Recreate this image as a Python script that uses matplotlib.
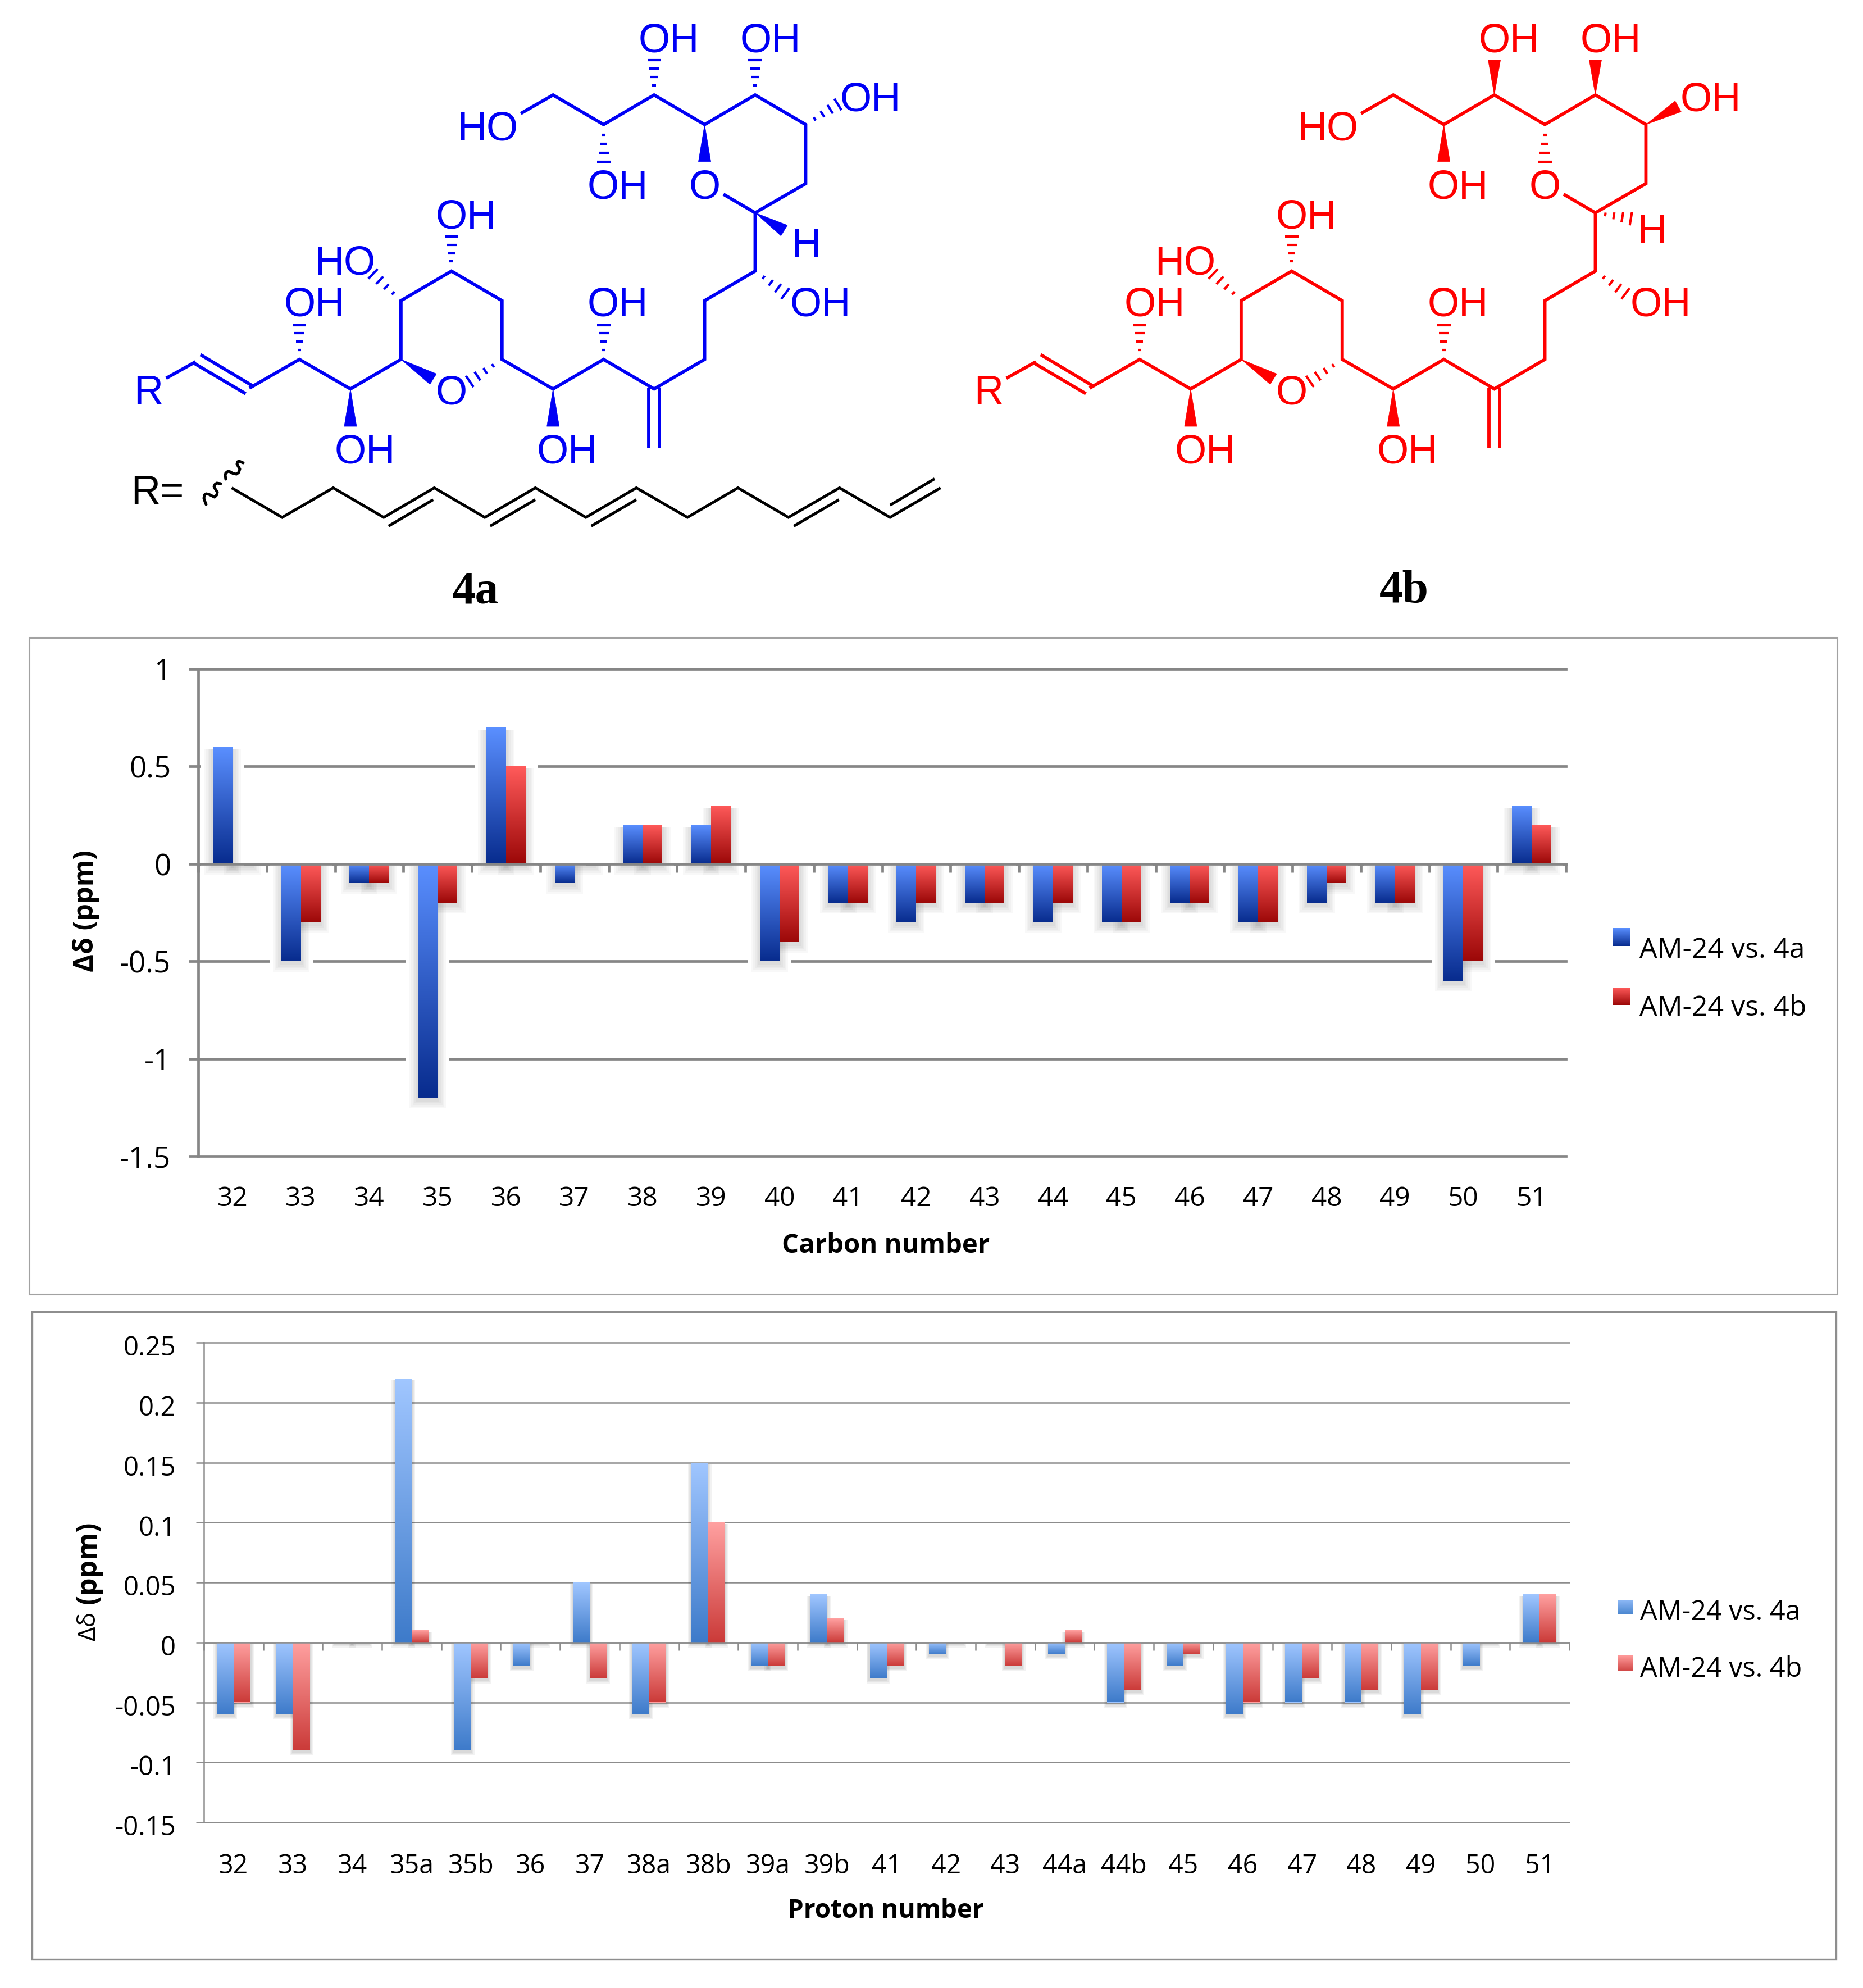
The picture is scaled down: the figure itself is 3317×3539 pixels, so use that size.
import matplotlib

matplotlib.use("Agg")
import matplotlib.pyplot as plt
import numpy as np
from matplotlib.colors import to_rgb
from matplotlib.patches import Polygon, Rectangle
from matplotlib.transforms import ScaledTranslation

WIDTH = 3317
HEIGHT = 3539

# ######## chart values #########

carbon_labels = ["32", "33", "34", "35", "36", "37", "38", "39", "40", "41",
                 "42", "43", "44", "45", "46", "47", "48", "49", "50", "51"]
carbon_4a = [0.6, -0.5, -0.1, -1.2, 0.7, -0.1, 0.2, 0.2, -0.5, -0.2,
             -0.3, -0.2, -0.3, -0.3, -0.2, -0.3, -0.2, -0.2, -0.6, 0.3]
carbon_4b = [0, -0.3, -0.1, -0.2, 0.5, 0, 0.2, 0.3, -0.4, -0.2,
             -0.2, -0.2, -0.2, -0.3, -0.2, -0.3, -0.1, -0.2, -0.5, 0.2]
carbon_ticks = [1, 0.5, 0, -0.5, -1, -1.5]
carbon_ticklabels = ["1", "0.5", "0", "-0.5", "-1", "-1.5"]

proton_labels = ["32", "33", "34", "35a", "35b", "36", "37", "38a", "38b",
                 "39a", "39b", "41", "42", "43", "44a", "44b", "45", "46",
                 "47", "48", "49", "50", "51"]
proton_4a = [-0.06, -0.06, 0, 0.22, -0.09, -0.02, 0.05, -0.06, 0.15,
             -0.02, 0.04, -0.03, -0.01, 0, -0.01, -0.05, -0.02, -0.06,
             -0.05, -0.05, -0.06, -0.02, 0.04]
proton_4b = [-0.05, -0.09, 0, 0.01, -0.03, 0, -0.03, -0.05, 0.10,
             -0.02, 0.02, -0.02, 0, -0.02, 0.01, -0.04, -0.01, -0.05,
             -0.03, -0.04, -0.04, 0, 0.04]
proton_ticks = [0.25, 0.2, 0.15, 0.1, 0.05, 0, -0.05, -0.1, -0.15]
proton_ticklabels = ["0.25", "0.2", "0.15", "0.1", "0.05", "0", "-0.05",
                     "-0.1", "-0.15"]

legend_4a = "AM-24 vs. 4a"
legend_4b = "AM-24 vs. 4b"

# ######## molecule drawing, in sketch units (see px below) #########

chain = [(100, 960), (155, 918)]
skeleton = [
    (255, 985), (348, 912), (443, 987), (537, 912), (537, 763), (631, 688),
    (725, 763), (725, 912), (820, 987), (914, 912), (1008, 987), (1102, 912),
    (1102, 763), (1196, 688), (1196, 540), (1290, 466), (1290, 316),
    (1196, 241), (1102, 316), (1008, 241), (914, 316), (820, 241), (760, 288),
]
ring_o_bond = [(1196, 540), (1137, 493)]
side_bonds = [
    [(150, 920), (248, 999)],
    [(164, 900), (262, 980)],
    [(998, 985), (998, 1137)],
    [(1018, 985), (1018, 1137)],
]
# stereo bonds that both isomers share
common_wedges = [
    [(443, 987), (443, 1082)],
    [(537, 912), (597, 962)],
    [(820, 987), (820, 1082)],
]
common_hashes = [
    [(348, 912), (348, 825)],
    [(725, 912), (665, 968)],
    [(537, 763), (485, 695)],
    [(631, 688), (631, 600)],
    [(914, 912), (914, 825)],
    [(1196, 688), (1252, 745)],
]
a_wedges = [[(1196, 540), (1250, 585)], [(1102, 316), (1102, 410)]]
a_hashes = [
    [(914, 316), (914, 410)],
    [(1008, 241), (1008, 152)],
    [(1196, 241), (1196, 152)],
    [(1290, 316), (1350, 265)],
]
b_wedges = [
    [(914, 316), (914, 410)],
    [(1008, 241), (1008, 152)],
    [(1196, 241), (1196, 152)],
    [(1290, 316), (1350, 270)],
]
b_hashes = [[(1102, 316), (1102, 410)], [(1196, 540), (1262, 555)]]
common_atoms = [
    ("OH", 1035, 95), ("OH", 1224, 95), ("OH", 1411, 245), ("HO", 698, 318),
    ("OH", 940, 467), ("O", 1102, 467), ("OH", 658, 542), ("HO", 433, 660),
    ("OH", 376, 765), ("OH", 940, 765), ("OH", 1317, 765), ("R", 67, 988),
    ("O", 631, 988), ("OH", 470, 1138), ("OH", 846, 1138),
]
a_atoms = [("H", 1291, 615)]
b_atoms = [("H", 1301, 580)]

r_group = [
    (222, 1238), (316, 1313), (411, 1238), (505, 1313), (599, 1238),
    (693, 1313), (787, 1238), (881, 1313), (975, 1238), (1070, 1313),
    (1164, 1238), (1258, 1313), (1353, 1238), (1447, 1313), (1541, 1238),
]
r_group_doubles = [
    [(514, 1335), (597, 1268)],
    [(703, 1335), (787, 1268)],
    [(891, 1335), (975, 1268)],
    [(1268, 1335), (1352, 1268)],
    [(1447, 1282), (1530, 1215)],
]
# wavy bond, in pixels
squiggle_low = [(367, 898), (365, 893), (363, 887), (364, 881), (367, 879),
                (372, 880), (378, 883), (382, 885), (386, 881), (387, 876),
                (383, 870), (381, 866), (383, 862), (386, 860), (393, 861)]
squiggle_high = [(402, 853), (401, 846), (402, 842), (406, 839), (410, 840),
                 (415, 843), (421, 844), (425, 841), (427, 835), (424, 830),
                 (422, 826), (423, 822), (426, 821), (433, 824)]


def px(point, dx=0):
    # the sketch units are stretched against the final pixels
    return 200 + point[0] / 1.045 + dx, point[1] / 1.4255


def draw_line(ax, points, color, lw, dx=0):
    xy = np.array([px(p, dx) for p in points])
    ax.plot(xy[:, 0], xy[:, 1], color=color, lw=lw, solid_joinstyle="miter",
            solid_capstyle="butt", zorder=3)


def draw_wedge(ax, bond, color, dx=0, width=22):
    a, b = np.array(px(bond[0], dx)), np.array(px(bond[1], dx))
    d = (b - a) / np.hypot(*(b - a))
    n = np.array([-d[1], d[0]]) * width / 2
    ax.add_patch(Polygon([a, b + n, b - n], closed=True, fc=color, ec=color,
                         lw=0.5, zorder=3))


def draw_hash(ax, bond, color, dx=0, width=24, count=4):
    a, b = np.array(px(bond[0], dx)), np.array(px(bond[1], dx))
    d = (b - a) / np.hypot(*(b - a))
    n = np.array([-d[1], d[0]])
    for i in range(1, count + 1):
        t = 0.28 + 0.72 * (i - 1) / (count - 1)
        c = a + (b - a) * t
        h = n * width * t / 2
        ax.plot([c[0] - h[0], c[0] + h[0]], [c[1] - h[1], c[1] + h[1]],
                color=color, lw=3.0, solid_capstyle="butt", zorder=3)


def draw_molecule(ax, color, wedges, hashes, atoms, dx=0):
    draw_line(ax, chain, color, 4.2, dx)
    draw_line(ax, skeleton, color, 4.2, dx)
    draw_line(ax, ring_o_bond, color, 4.2, dx)
    for bond in side_bonds:
        draw_line(ax, bond, color, 4.2, dx)
    for bond in common_wedges + wedges:
        draw_wedge(ax, bond, color, dx)
    for bond in common_hashes + hashes:
        draw_hash(ax, bond, color, dx)
    for text, x, y in common_atoms + atoms:
        xp, yp = px((x, y), dx)
        ax.text(xp, yp, text, color=color, fontsize=52, ha="center",
                va="center_baseline", family="Liberation Sans", zorder=4)


def gradient(ax, x0, x1, y0, y1, top, bottom, clip=None, zorder=2):
    rgb = np.linspace(to_rgb(top), to_rgb(bottom), 64).reshape(64, 1, 3)
    im = ax.imshow(rgb, extent=(x0, x1, y0, y1), aspect="auto", origin="upper",
                   interpolation="bilinear", zorder=zorder)
    if clip is not None:
        im.set_clip_path(clip)
    return im


def draw_chart(fig, box, labels, series_a, series_b, ticks, ticklabels, style):
    left, top, right, bottom = box
    ax = fig.add_axes([left / WIDTH, 1 - bottom / HEIGHT,
                       (right - left) / WIDTH, (bottom - top) / HEIGHT],
                      facecolor="none")
    ax.set_xlim(-0.5, len(labels) - 0.5)
    ax.set_ylim(ticks[-1], ticks[0])
    ax.set_autoscale_on(False)

    per_px_x = len(labels) / (right - left)
    per_px_y = (ticks[0] - ticks[-1]) / (bottom - top)
    width = style["bar_px"] * per_px_x
    x = np.arange(len(labels))

    for offset, values, top_c, bottom_c in [
        (-width / 2, series_a, style["blue"][0], style["blue"][1]),
        (width / 2, series_b, style["red"][0], style["red"][1]),
    ]:
        bars = ax.bar(x + offset, values, width=width, color=top_c,
                      linewidth=0, zorder=2)
        for bar, value in zip(bars, values):
            x0 = bar.get_x()
            x1 = x0 + width
            low, high = min(value, 0), max(value, 0)
            if style["halo"] and value != 0:
                h = style["halo"]
                ax.add_patch(Rectangle(
                    (x0 - h * per_px_x, low - h * per_px_y),
                    width + 2 * h * per_px_x, high - low + 2 * h * per_px_y,
                    fc="white", ec="none", zorder=1))
            # soft drop shadow, falling below the bar only
            for k in range(1, style["blur"] + 1):
                s = k * style["blur_step"]
                y0 = low - (s + style["drop"]) * per_px_y
                y1 = high - style["drop"] * per_px_y
                ax.add_patch(Rectangle(
                    (x0 - s * per_px_x, y0), width + 2 * s * per_px_x, y1 - y0,
                    fc="black", ec="none", alpha=style["blur_alpha"],
                    zorder=1.2))
            if value != 0:
                gradient(ax, x0, x1, low, high, top_c, bottom_c, clip=bar,
                         zorder=2.1)

    grey = style["grey"]
    ax.set_yticks(ticks)
    ax.set_yticklabels(ticklabels)
    ax.yaxis.grid(True, color=grey, lw=style["grid_lw"])
    ax.set_axisbelow(True)
    for line in ax.get_ygridlines():
        line.set_clip_on(False)
    ax.tick_params(axis="y", length=style["tick_len"], width=style["grid_lw"],
                   color=grey, pad=style["ypad"],
                   labelsize=style["ytick_size"])

    for name in ["top", "right"]:
        ax.spines[name].set_visible(False)
    ax.spines["left"].set_color(grey)
    ax.spines["left"].set_linewidth(style["grid_lw"])
    ax.spines["bottom"].set_position(("data", 0))
    ax.spines["bottom"].set_color(grey)
    ax.spines["bottom"].set_linewidth(style["grid_lw"])

    ax.set_xticks(x)
    ax.set_xticklabels(labels)
    ax.set_xticks(np.arange(len(labels) + 1) - 0.5, minor=True)
    ax.tick_params(axis="x", which="major", length=0, pad=style["xpad"],
                   labelsize=style["xtick_size"])
    ax.tick_params(axis="x", which="minor", length=style["xtick_len"],
                   width=style["grid_lw"], color=grey)
    shift = ScaledTranslation(0, -style["ylabel_drop"] / 100,
                              fig.dpi_scale_trans)
    for label in ax.get_yticklabels():
        label.set_family("Open Sans")
        label.set_transform(label.get_transform() + shift)
    for label in ax.get_xticklabels():
        label.set_family("Open Sans")
    return ax


def run_example():
    fig = plt.figure(figsize=(WIDTH / 100, HEIGHT / 100), dpi=100,
                     facecolor="white")

    canvas = fig.add_axes([0, 0, 1, 1], zorder=-1)
    canvas.set_xlim(0, WIDTH)
    canvas.set_ylim(HEIGHT, 0)
    canvas.set_autoscale_on(False)
    canvas.axis("off")

    # ######## structures #########
    draw_molecule(canvas, "#0000F5", a_wedges, a_hashes, a_atoms)
    draw_molecule(canvas, "#FF0000", b_wedges, b_hashes, b_atoms, dx=1496)

    draw_line(canvas, r_group, "black", 3.6)
    for bond in r_group_doubles:
        draw_line(canvas, bond, "black", 3.6)
    for squiggle in [squiggle_low, squiggle_high]:
        xy = np.array(squiggle)
        canvas.plot(xy[:, 0], xy[:, 1], color="black", lw=3.6,
                    solid_capstyle="round", solid_joinstyle="round")
    canvas.text(280, 871, "R=", color="black", fontsize=52, ha="center",
                va="center_baseline", family="Liberation Sans")
    canvas.text(846, 1054, "4a", color="black", fontsize=60, ha="center",
                va="center", family="Liberation Serif", weight="bold")
    canvas.text(2500, 1052, "4b", color="black", fontsize=60, ha="center",
                va="center", family="Liberation Serif", weight="bold")

    # ######## chart frames #########
    canvas.add_patch(Rectangle((52, 1135), 3219, 1169, fc="white",
                               ec="#A2A2A2", lw=2.2))
    canvas.add_patch(Rectangle((57, 2335), 3212, 1153, fc="white",
                               ec="#8E8E8E", lw=2.4))

    # ######## carbon chart #########
    carbon_style = {
        "bar_px": 35, "blue": ("#5A8FFF", "#082C8E"),
        "red": ("#FF5A5A", "#9C0808"), "halo": 21, "blur": 5, "blur_step": 3,
        "drop": 4, "blur_alpha": 0.028, "grey": "#868686", "grid_lw": 3.4,
        "tick_len": 12, "xtick_len": 11, "ytick_size": 38, "xtick_size": 34.5,
        "ypad": 23, "xpad": 412, "ylabel_drop": 0,
    }
    draw_chart(fig, (353, 1191, 2788, 2058), carbon_labels, carbon_4a,
               carbon_4b, carbon_ticks, carbon_ticklabels, carbon_style)

    canvas.text(1577, 2218, "Carbon number", fontsize=34, weight="bold",
                family="Open Sans", ha="center", va="center")
    canvas.text(154, 1622, "Δδ (ppm)", fontsize=35, weight="bold",
                family="Open Sans", rotation=90, ha="center", va="center")

    gradient(canvas, 2872, 2903, 1684, 1652, "#5A8FFF", "#082C8E")
    gradient(canvas, 2872, 2903, 1789, 1758, "#FF5A5A", "#9C0808")
    canvas.text(2919, 1692, legend_4a, fontsize=36, family="Open Sans",
                va="center")
    canvas.text(2919, 1795, legend_4b, fontsize=36, family="Open Sans",
                va="center")

    # ######## proton chart #########
    proton_style = {
        "bar_px": 30, "blue": ("#A0C6FF", "#3E7BCA"),
        "red": ("#FFA0A0", "#CB3B39"), "halo": 0, "blur": 3, "blur_step": 2,
        "drop": 3, "blur_alpha": 0.05, "grey": "#8C8C8C", "grid_lw": 1.8,
        "tick_len": 10, "xtick_len": 10, "ytick_size": 34, "xtick_size": 33.5,
        "ypad": 26, "xpad": 270, "ylabel_drop": 5,
    }
    draw_chart(fig, (363, 2390, 2794, 3244), proton_labels, proton_4a,
               proton_4b, proton_ticks, proton_ticklabels, proton_style)

    canvas.text(1577, 3402, "Proton number", fontsize=33, weight="bold",
                family="Open Sans", ha="center", va="center")
    canvas.text(158, 2895, "Δδ", fontsize=32, family="Open Sans", rotation=90,
                ha="center", va="center")
    canvas.text(158, 2782, "(ppm)", fontsize=36, weight="bold",
                family="Open Sans", rotation=90, ha="center", va="center")

    gradient(canvas, 2880, 2907, 2874, 2848, "#8DB8F5", "#4A86D0")
    gradient(canvas, 2880, 2907, 2974, 2947, "#FF9A9A", "#D24A48")
    canvas.text(2920, 2871, legend_4a, fontsize=35, family="Open Sans",
                va="center")
    canvas.text(2920, 2972, legend_4b, fontsize=35, family="Open Sans",
                va="center")

    fig.savefig("out.png", dpi=100)


if __name__ == "__main__":
    run_example()
